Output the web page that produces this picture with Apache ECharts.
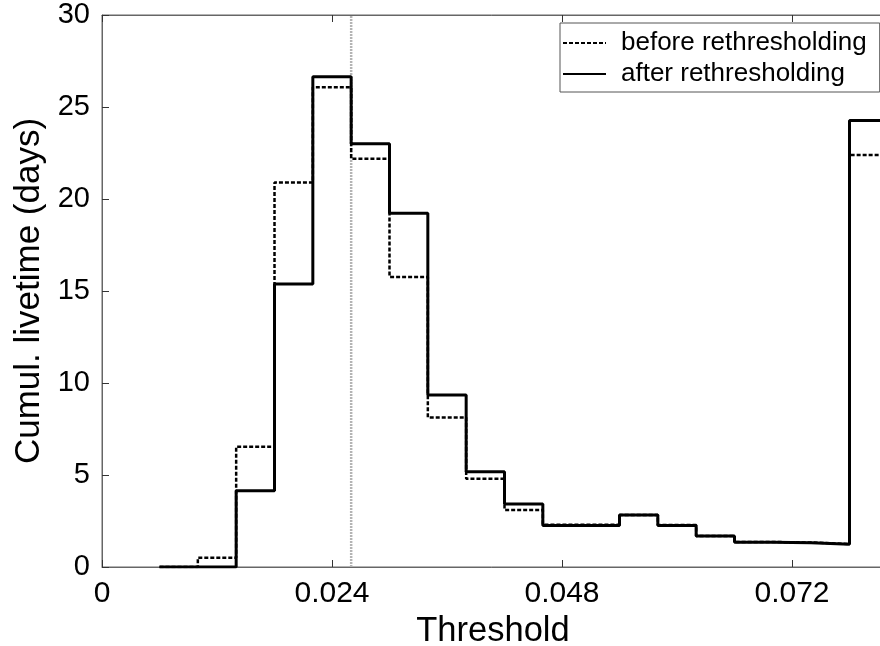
<!DOCTYPE html>
<html>
<head>
<meta charset="utf-8">
<script src="https://cdn.jsdelivr.net/npm/echarts@6/dist/echarts.min.js"></script>
<style>
  html, body { margin: 0; padding: 0; background: #fff; overflow: hidden; }
  #chart { width: 880px; height: 646px; }
</style>
</head>
<body>
<div id="chart"></div>
<script>
// Bin edges (threshold) and cumulative livetime per bin (days)
const binEdges = [0.006, 0.010, 0.014, 0.018, 0.022, 0.026, 0.030, 0.034, 0.038, 0.042,
                  0.046, 0.050, 0.054, 0.058, 0.062, 0.066, 0.070, 0.074, 0.078, 0.082];
const beforeValues = [0, 0.5, 6.54, 20.9, 26.07, 22.19, 15.76, 8.13, 4.80, 3.10,
                      2.30, 2.30, 2.83, 2.28, 1.68, 1.36, 1.33, 1.25, 22.39];
const afterValues  = [0, 0, 4.15, 15.38, 26.65, 23.0, 19.22, 9.35, 5.18, 3.42,
                      2.25, 2.25, 2.83, 2.25, 1.68, 1.34, 1.32, 1.23, 24.26];
const markerThreshold = 0.026;
const xTicks = [0, 0.024, 0.048, 0.072];
const yTicks = [0, 5, 10, 15, 20, 25, 30];
const seriesNames = ['before rethresholding', 'after rethresholding'];

function stairs(vals) {
  const pts = vals.map((v, i) => [binEdges[i], v]);
  pts.push([binEdges[vals.length], vals[vals.length - 1]]);
  return pts;
}

const FONT = 'Liberation Sans, Arial, Helvetica, sans-serif';
const chart = echarts.init(document.getElementById('chart'), null, { renderer: 'canvas' });

const X_MAX = 0.0816;
const xCommon = {
  type: 'value', min: 0, max: X_MAX, interval: xTicks[1] - xTicks[0],
  splitLine: { show: false },
  axisLine: { show: true, lineStyle: { color: '#666', width: 1 } },
  axisTick: { show: true, inside: true, length: 7, lineStyle: { color: '#333', width: 1 } }
};

chart.setOption({
  animation: false,
  backgroundColor: '#fff',
  grid: {
    left: 102, top: 15, width: 782, bottom: 79,
    outerBoundsMode: 'none', containLabel: false,
    show: true, borderColor: '#666', borderWidth: 1, backgroundColor: 'transparent'
  },
  legend: {
    orient: 'vertical',
    left: 560, top: 23,
    data: seriesNames,
    itemWidth: 43, itemHeight: 20, itemGap: 5,
    padding: [7, 13, 5, 2],
    borderColor: '#555', borderWidth: 1,
    backgroundColor: '#fff',
    selectedMode: false,
    itemStyle: { opacity: 0, borderWidth: 0 },
    textStyle: { fontSize: 26, color: '#000', fontFamily: FONT, padding: [0, 0, 0, 10] }
  },
  xAxis: [
    Object.assign({}, xCommon, {
      position: 'bottom',
      name: 'Threshold', nameLocation: 'middle', nameGap: 40,
      nameTextStyle: { fontSize: 34.5, color: '#000', fontFamily: FONT },
      axisLabel: {
        fontSize: 30, color: '#000', fontFamily: FONT, margin: 12, showMaxLabel: false,
        formatter: v => (Math.abs(v) < 1e-12 ? '0' : (+v).toFixed(3))
      }
    }),
    Object.assign({}, xCommon, {
      position: 'top',
      axisLabel: { show: false }
    })
  ],
  yAxis: {
    type: 'value', min: yTicks[0], max: yTicks[yTicks.length - 1], interval: yTicks[1] - yTicks[0],
    name: 'Cumul. livetime (days)', nameLocation: 'middle', nameGap: 52,
    nameTextStyle: { fontSize: 35, color: '#000', fontFamily: FONT },
    splitLine: { show: false },
    axisLine: { show: true, lineStyle: { color: '#666', width: 1 } },
    axisTick: { show: true, inside: true, length: 7, lineStyle: { color: '#333', width: 1 } },
    axisLabel: { fontSize: 29, color: '#000', fontFamily: FONT, margin: 12 }
  },
  series: [
    {
      name: 'threshold marker', type: 'line', xAxisIndex: 0,
      data: [[markerThreshold, yTicks[0]], [markerThreshold, yTicks[yTicks.length - 1]]],
      symbol: 'none', showSymbol: false, silent: true,
      lineStyle: { color: '#b4b4b4', width: 2.5, type: [2, 1] },
      z: 1
    },
    {
      name: seriesNames[0], type: 'line', step: 'end', xAxisIndex: 0,
      data: stairs(beforeValues),
      symbol: 'none', showSymbol: false,
      lineStyle: { color: '#000', width: 2.5, type: [4, 2] },
      itemStyle: { color: '#000' },
      z: 3
    },
    {
      name: seriesNames[1], type: 'line', step: 'end', xAxisIndex: 0,
      data: stairs(afterValues),
      symbol: 'none', showSymbol: false,
      lineStyle: { color: '#000', width: 3, type: 'solid' },
      itemStyle: { color: '#000' },
      z: 4
    }
  ]
});
</script>
</body>
</html>
